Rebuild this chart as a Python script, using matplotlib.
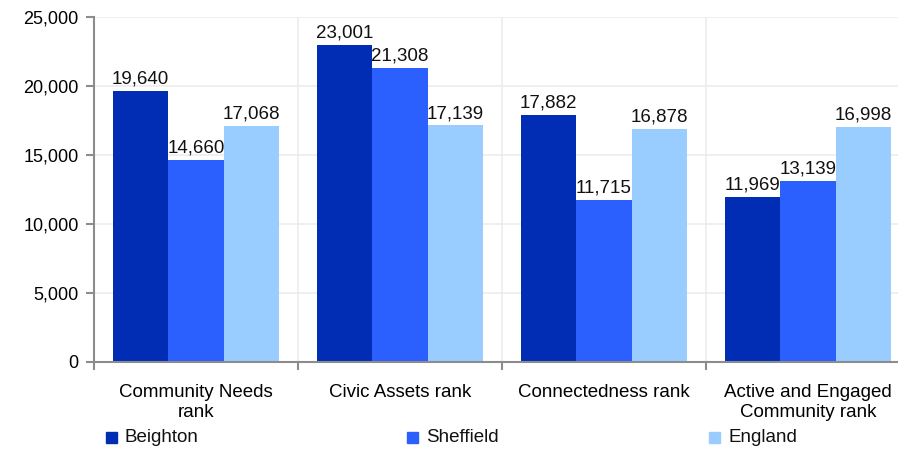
import matplotlib.pyplot as plt
from matplotlib.patches import Rectangle
import numpy as np

plt.rcParams["font.family"] = ["Liberation Sans", "DejaVu Sans"]

categories = ["Community Needs\nrank", "Civic Assets rank", "Connectedness rank",
              "Active and Engaged\nCommunity rank"]
series = ["Beighton", "Sheffield", "England"]
beighton = [19640, 23001, 17882, 11969]
sheffield = [14660, 21308, 11715, 13139]
england = [17068, 17139, 16878, 16998]
colors = ["#002DB3", "#2B60FF", "#99CCFF"]

W, H = 898, 449
FS = 13.5
fig = plt.figure(figsize=(W / 100, H / 100), dpi=100)
ax = fig.add_axes([94 / W, 1 - 362 / H, 816 / W, 345 / H])

x = np.arange(len(categories))
bw = 0.272
for i, (vals, col) in enumerate(zip([beighton, sheffield, england], colors)):
    pos = x + (i - 1) * bw
    ax.bar(pos, vals, width=bw, color=col, zorder=3)
    for p, v in zip(pos, vals):
        ax.annotate(f"{v:,}", (p, v), xytext=(0, 2.5), textcoords="offset points",
                    ha="center", va="bottom", fontsize=FS, color="#111111",
                    zorder=4)

ax.set_xlim(-0.5, len(categories) - 0.5)
ax.set_ylim(0, 25000)
ax.set_yticks(np.arange(0, 25001, 5000))
ax.set_yticklabels([f"{v:,}" for v in range(0, 25001, 5000)], fontsize=13)
ax.set_xticks(np.arange(len(categories) + 1) - 0.5)
ax.set_xticklabels([])
ax.set_xticks(x, minor=True)
ax.set_xticklabels(categories, minor=True, fontsize=FS, linespacing=1.2)
ax.tick_params(axis="x", which="minor", length=0, pad=16)
ax.tick_params(axis="x", which="major", length=6, color="#8c8c8c", width=1.5)
ax.tick_params(axis="y", length=6, color="#8c8c8c", width=1.5, pad=5)

ax.grid(True, which="major", color="#ececec", lw=1.2, zorder=0)
for s in ("top", "right"):
    ax.spines[s].set_visible(False)
for s in ("left", "bottom"):
    ax.spines[s].set_color("#8c8c8c")
    ax.spines[s].set_linewidth(1.5)
    ax.spines[s].set_zorder(5)

# legend row
leg_x = [112, 413, 715]
for name, col, lx in zip(series, colors, leg_x):
    fig.patches.append(Rectangle(((lx - 6) / W, 1 - 443 / H), 11 / W, 11 / H,
                                 transform=fig.transFigure, color=col))
    fig.text((lx + 13) / W, 1 - 437 / H, name, ha="left", va="center",
             fontsize=FS, color="#111111")

fig.savefig("out.png", dpi=100)
